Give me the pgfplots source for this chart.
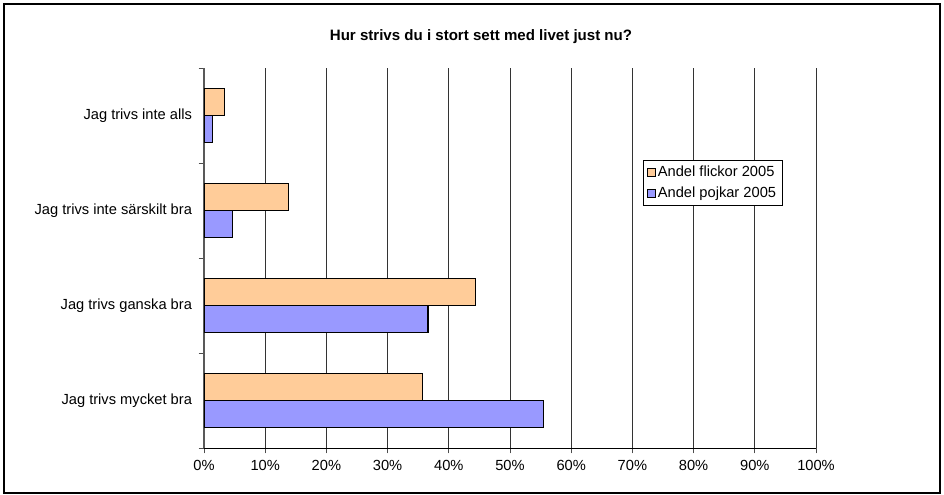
\documentclass[border=0pt]{standalone}
\usepackage{fontspec}
\setmainfont{Liberation Sans}
\usepackage{pgfplots}
\pgfplotsset{compat=1.18}
\definecolor{flickor}{HTML}{FFCC99}
\definecolor{pojkar}{HTML}{9999FF}
\begin{document}
\begin{tikzpicture}
% outer frame, 944x495 px at 0.75pt per px
\path[use as bounding box] (0,0) rectangle (708pt,371.25pt);
\draw[line width=1.3pt] (3pt,1.5pt) rectangle (705pt,368.25pt);
\node[font=\bfseries\fontsize{11.3}{13}\selectfont] at (360.75pt,343.5pt) {Hur strivs du i stort sett med livet just nu?};
\begin{axis}[
    at={(153pt,35.25pt)}, anchor=south west,
    scale only axis,
    width=459pt, height=285pt,
    xmin=0, xmax=100,
    ymin=-0.5, ymax=3.5,
    axis x line*=bottom,
    axis y line*=left,
    x axis line style={black, line width=0.6pt, -},
    y axis line style={black!65, line width=0.9pt, -},
    xtick={0,10,...,100},
    xticklabel={\pgfmathprintnumber{\tick}\%},
    /pgf/number format/assume math mode=true,
    ytick={-0.5,0.5,1.5,2.5,3.5},
    y tick label as interval,
    yticklabels={Jag trivs mycket bra, Jag trivs ganska bra, Jag trivs inte särskilt bra, Jag trivs inte alls},
    tick align=outside,
    major tick length=4pt,
    tick style={black!70, line width=0.6pt},
    xmajorgrids,
    grid style={black!80, line width=0.5pt},
    ticklabel style={font=\fontsize{11}{13}\selectfont},
    y tick label style={xshift=-1.5pt},
    x tick label style={yshift=-2pt},
    xbar,
    bar width=20pt,
    legend cell align=left,
    legend style={at={(0.717,0.758)}, anchor=north west, draw=black, line width=0.6pt,
        fill=white, font=\fontsize{11}{13}\selectfont, inner sep=2.5pt, row sep=2pt},
    legend image code/.code={\draw[#1, draw=black, line width=0.5pt] (0pt,-3pt) rectangle (6pt,3pt);},
]
\addplot[fill=flickor, draw=black, line width=0.8pt, bar shift=10pt]
    coordinates {(35.7,0) (44.3,1) (13.8,2) (3.4,3)};
\addplot[fill=pojkar, draw=black, line width=0.8pt, bar shift=-10pt]
    coordinates {(55.4,0) (36.6,1) (4.6,2) (1.4,3)};
\legend{Andel flickor 2005, Andel pojkar 2005}
\end{axis}
\end{tikzpicture}
\end{document}
